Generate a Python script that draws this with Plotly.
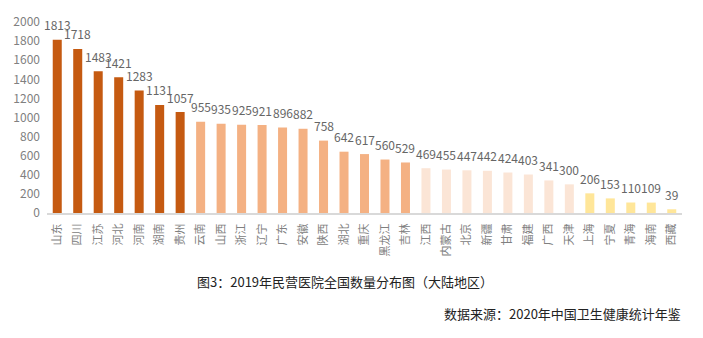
import plotly.graph_objects as go

provinces = ["山东", "四川", "江苏", "河北", "河南", "湖南", "贵州",
             "云南", "山西", "浙江", "辽宁", "广东", "安徽", "陕西", "湖北", "重庆", "黑龙江", "吉林",
             "江西", "内蒙古", "北京", "新疆", "甘肃", "福建", "广西", "天津",
             "上海", "宁夏", "青海", "海南", "西藏"]
counts = [1813, 1718, 1483, 1421, 1283, 1131, 1057,
          955, 935, 925, 921, 896, 882, 758, 642, 617, 560, 529,
          469, 455, 447, 442, 424, 403, 341, 300,
          206, 153, 110, 109, 39]
tier_sizes = [7, 11, 8, 5]
tier_colors = ["#C55A11", "#F4B183", "#FBE5D6", "#FFE699"]

y_ticks = [0, 200, 400, 600, 800, 1000, 1200, 1400, 1600, 1800, 2000]

title_text = "图3：2019年民营医院全国数量分布图（大陆地区）"
source_text = "数据来源：2020年中国卫生健康统计年鉴"

colors = []
for n, c in zip(tier_sizes, tier_colors):
    colors += [c] * n

FONT = "Noto Sans CJK SC, Noto Sans, sans-serif"

xs = list(range(len(provinces)))

fig = go.Figure(go.Bar(
    x=xs,
    y=counts,
    marker=dict(color=colors, line=dict(width=0)),
    width=0.44,
    hoverinfo="x+y",
))

plot_l, plot_r, plot_t, plot_b = 47, 682, 20, 213.5

annotations = []
for xi, v in zip(xs, counts):
    annotations.append(dict(
        x=xi, y=v, xref="x", yref="y", text=str(v), showarrow=False,
        yanchor="middle", xanchor="center", yshift=15,
        font=dict(family=FONT, size=12, color="#666666"),
    ))

def px_to_paper(px, py):
    return (px - plot_l) / (plot_r - plot_l), (plot_b - py) / (plot_b - plot_t)

tx, ty = px_to_paper(195, 283)
sx, sy = px_to_paper(683, 315)
annotations.append(dict(text=title_text, x=tx, y=ty, xref="paper", yref="paper",
                        showarrow=False, font=dict(family=FONT, size=13, color="#222222"),
                        xanchor="left", yanchor="middle"))
annotations.append(dict(text=source_text, x=sx, y=sy, xref="paper", yref="paper",
                        showarrow=False, font=dict(family=FONT, size=13, color="#222222"),
                        xanchor="right", yanchor="middle"))

fig.update_layout(
    width=703, height=338, autosize=False,
    margin=dict(l=plot_l, r=703 - plot_r, t=plot_t, b=338 - plot_b),
    paper_bgcolor="white", plot_bgcolor="white",
    showlegend=False,
    font=dict(family=FONT),
    xaxis=dict(
        tickmode="array",
        tickvals=xs,
        ticktext=provinces,
        tickfont=dict(family=FONT, size=11, color="#808080"),
        range=[-0.5, len(provinces) - 0.5],
        showline=True, linecolor="#D9D9D9", linewidth=2,
        showgrid=False, zeroline=False, ticks="",
        tickangle=-90,
        ticklabelstandoff=4,
    ),
    yaxis=dict(
        range=[0, 2000],
        tickmode="array",
        tickvals=y_ticks,
        ticktext=[str(v) for v in y_ticks],
        tickfont=dict(family=FONT, size=12, color="#808080"),
        showgrid=False, zeroline=False, showline=False, ticks="",
        ticklabelstandoff=6,
    ),
    annotations=annotations,
)

fig.write_html("out.html")
